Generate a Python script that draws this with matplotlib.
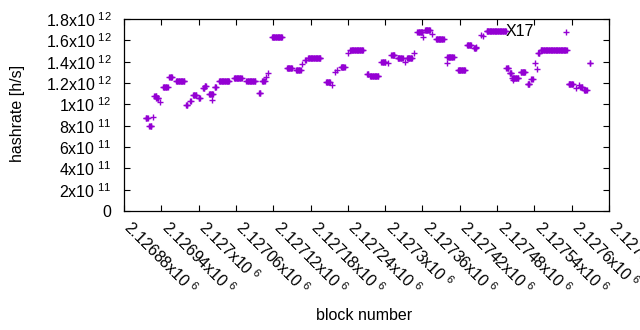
import numpy as np
import matplotlib
matplotlib.use("Agg")
import matplotlib.pyplot as plt
import matplotlib.transforms as mtransforms

plt.rcParams['font.family'] = ['Liberation Sans', 'DejaVu Sans']
plt.rcParams['mathtext.default'] = 'regular'

# block ranges (offset from 2126880) with a constant hashrate estimate, in 1e12 h/s
base_block = 2126880
seg_start = [35, 47, 41, 49, 52, 58, 63, 73, 84, 100, 106, 111, 120, 127, 130,
             137, 142, 146, 153, 177, 197, 217, 222, 229, 232, 238, 262, 277, 286, 291,
             296, 325, 335, 340, 343, 349, 360, 364, 391, 396, 414, 424, 430, 440, 452,
             455, 466, 472, 481, 484, 496, 502, 519, 520, 537, 552, 563, 566, 574, 578,
             583, 615, 620, 624, 626, 638, 649, 655, 661, 664, 666, 670, 711, 715, 727,
             732, 734, 740, 749]
seg_end = [38, 47, 44, 52, 55, 58, 70, 77, 97, 102, 107, 116, 122, 129, 132,
           143, 142, 148, 169, 189, 211, 219, 226, 229, 232, 254, 270, 284, 286, 292,
           316, 331, 335, 340, 343, 355, 360, 384, 393, 409, 420, 424, 435, 448, 452,
           463, 466, 480, 481, 492, 496, 514, 519, 530, 548, 558, 566, 566, 574, 578,
           614, 618, 623, 634, 626, 645, 652, 657, 661, 664, 668, 712, 711, 722, 727,
           732, 737, 744, 750]
seg_rate = [0.87, 0.88, 0.80, 1.08, 1.06, 1.025, 1.16, 1.255, 1.215, 0.994, 1.03, 1.09, 1.06, 1.15, 1.17,
            1.10, 1.04, 1.165, 1.22, 1.245, 1.22, 1.11, 1.22, 1.26, 1.29, 1.63, 1.337, 1.32, 1.38, 1.416,
            1.43, 1.21, 1.18, 1.306, 1.32, 1.35, 1.478, 1.506, 1.284, 1.265, 1.40, 1.385, 1.46, 1.43, 1.40,
            1.43, 1.478, 1.68, 1.634, 1.70, 1.66, 1.61, 1.39, 1.447, 1.32, 1.56, 1.53, 1.54, 1.65, 1.64,
            1.69, 1.338, 1.29, 1.25, 1.23, 1.30, 1.19, 1.235, 1.39, 1.33, 1.478, 1.51, 1.675, 1.19, 1.15,
            1.18, 1.165, 1.134, 1.385]

x_ticks = [2126880 + 60 * i for i in range(14)]
x_tick_labels = ['2.12688', '2.12694', '2.127', '2.12706', '2.12712', '2.12718', '2.12724',
                 '2.1273', '2.12736', '2.12742', '2.12748', '2.12754', '2.1276', '2.12766']
y_ticks = [0, 2e11, 4e11, 6e11, 8e11, 1e12, 1.2e12, 1.4e12, 1.6e12, 1.8e12]
y_tick_labels = ['0', r'2x10$^{\ 11}$', r'4x10$^{\ 11}$', r'6x10$^{\ 11}$', r'8x10$^{\ 11}$',
                 r'1x10$^{\ 12}$', r'1.2x10$^{\ 12}$', r'1.4x10$^{\ 12}$', r'1.6x10$^{\ 12}$',
                 r'1.8x10$^{\ 12}$']
label_text = 'X17'
label_block = 2127493
label_rate = 1.681e12

blocks = []
rates = []
for s, e, r in zip(seg_start, seg_end, seg_rate):
    for b in range(s, e + 1):
        blocks.append(base_block + b)
        rates.append(r * 1e12)

fig = plt.figure(figsize=(6.4, 3.3), dpi=100)
ax = fig.add_axes([124 / 640, 1 - 211 / 330, 485 / 640, 192 / 330])

ax.plot(blocks, rates, linestyle='none', marker='+', markersize=4.8,
        markeredgewidth=1.0, color='#9400d3')
ax.text(label_block, label_rate, label_text, ha='left', va='center', fontsize=11.5)

ax.set_xlim(2126880, 2127660)
ax.set_ylim(0, 1.8e12)
ax.set_xticks(x_ticks)
ax.set_xticklabels([t + r'x10$^{\ 6}$' for t in x_tick_labels], rotation=-45,
                   ha='left', va='top', rotation_mode='anchor', fontsize=11.5)
ax.set_yticks(y_ticks)
ax.set_yticklabels(y_tick_labels, fontsize=11.5)
ax.tick_params(direction='in', length=4, width=0.8, top=True, right=True)
ax.tick_params(axis='y', pad=9)
ax.tick_params(axis='x', pad=8)
shift = mtransforms.ScaledTranslation(10 / 100, 5 / 100, fig.dpi_scale_trans)
for lab in ax.get_xticklabels():
    lab.set_transform(lab.get_transform() + shift)
for sp in ax.spines.values():
    sp.set_linewidth(0.9)

fig.text(18 / 640, 1 - 113 / 330, 'hashrate [h/s]', rotation=90, ha='center', va='center', fontsize=11.5)
fig.text(364 / 640, 1 - 315 / 330, 'block number', ha='center', va='center', fontsize=11.5)

fig.savefig('out.png', dpi=100)
